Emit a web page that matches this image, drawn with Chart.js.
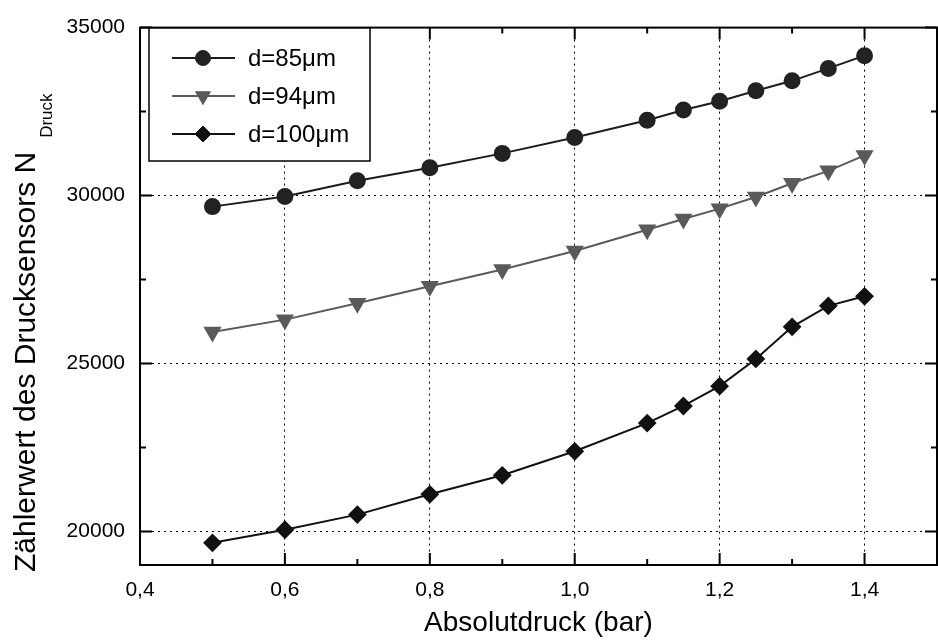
<!DOCTYPE html>
<html>
<head>
<meta charset="utf-8">
<title>Zählerwert des Drucksensors</title>
<script src="https://cdn.jsdelivr.net/npm/chart.js@4.4.1/dist/chart.umd.min.js"></script>
<style>
  html, body { margin: 0; padding: 0; background: #fff; overflow: hidden; }
  #wrap { width: 950px; height: 641px; }
</style>
</head>
<body>
<div id="wrap"><canvas id="druckChart" width="950" height="641"></canvas></div>
<script>
// Absolutdruck in bar
const pressure = [0.5, 0.6, 0.7, 0.8, 0.9, 1.0, 1.1, 1.15, 1.2, 1.25, 1.3, 1.35, 1.4];

// Zählerwerte für die drei Membrandicken
const counts85 = [29670, 29970, 30440, 30830, 31255, 31725, 32240, 32545, 32805, 33120, 33415, 33785, 34165];
const counts94 = [25935, 26305, 26795, 27300, 27800, 28350, 28980, 29300, 29610, 29955, 30365, 30735, 31195];
const counts100 = [19660, 20050, 20500, 21105, 21670, 22385, 23225, 23735, 24325, 25135, 26090, 26715, 27000];

const seriesLabels = ['d=85μm', 'd=94μm', 'd=100μm'];

// Achsenteilung: Haupt- und Nebenstriche
const xTicks = [0.4, 0.5, 0.6, 0.7, 0.8, 0.9, 1.0, 1.1, 1.2, 1.3, 1.4, 1.5];
const yTicks = [20000, 22500, 25000, 27500, 30000, 32500, 35000];

const xTitle = 'Absolutdruck (bar)';
const yTitle = 'Zählerwert des Drucksensors N';
const ySubscript = 'Druck';

const FONT = '"Liberation Sans", Arial, Helvetica, sans-serif';

function toPoints(ys) {
    return pressure.map((x, i) => ({ x: x, y: ys[i] }));
}

function isMajorX(v) {
    return Math.round(v * 10) % 2 === 0;
}

function isMajorY(v) {
    return v % 5000 === 0;
}

// frame, inward ticks, axis titles and the boxed legend
const plotDecor = {
    id: 'plotDecor',
    afterDraw(chart) {
        const ctx = chart.ctx;
        const area = chart.chartArea;
        const xs = chart.scales.x;
        const ys = chart.scales.y;

        ctx.save();
        ctx.strokeStyle = '#000';
        ctx.lineWidth = 2;
        ctx.setLineDash([]);
        ctx.strokeRect(area.left, area.top, area.right - area.left, area.bottom - area.top);

        // tick marks pointing into the plot on all four sides
        ctx.beginPath();
        xs.ticks.forEach(t => {
            const len = isMajorX(t.value) ? 12 : 6;
            const px = xs.getPixelForValue(t.value);
            ctx.moveTo(px, area.bottom);
            ctx.lineTo(px, area.bottom - len);
            ctx.moveTo(px, area.top);
            ctx.lineTo(px, area.top + len);
        });
        ys.ticks.forEach(t => {
            const len = isMajorY(t.value) ? 12 : 6;
            const py = ys.getPixelForValue(t.value);
            ctx.moveTo(area.left, py);
            ctx.lineTo(area.left + len, py);
            ctx.moveTo(area.right, py);
            ctx.lineTo(area.right - len, py);
        });
        ctx.stroke();

        // axis titles
        ctx.fillStyle = '#000';
        ctx.font = '28px ' + FONT;
        ctx.textAlign = 'center';
        ctx.textBaseline = 'alphabetic';
        ctx.fillText(xTitle, (area.left + area.right) / 2, 631);

        ctx.save();
        ctx.translate(35, 572);
        ctx.rotate(-Math.PI / 2);
        ctx.textAlign = 'left';
        ctx.font = '30px ' + FONT;
        ctx.fillText(yTitle, 0, 0);
        const w = ctx.measureText(yTitle).width;
        ctx.font = '17px ' + FONT;
        ctx.fillText(ySubscript, w + 14, 17);
        ctx.restore();

        // legend box
        const box = { left: 149, top: 28, right: 370, bottom: 161 };
        ctx.fillStyle = '#fff';
        ctx.fillRect(box.left, box.top, box.right - box.left, box.bottom - box.top);
        ctx.lineWidth = 1.5;
        ctx.strokeStyle = '#000';
        ctx.strokeRect(box.left, box.top, box.right - box.left, box.bottom - box.top);

        const rows = [58, 96, 134];
        chart.data.datasets.forEach((ds, i) => {
            const y = rows[i];
            ctx.strokeStyle = ds.borderColor;
            ctx.lineWidth = ds.borderWidth;
            ctx.beginPath();
            ctx.moveTo(172, y);
            ctx.lineTo(235, y);
            ctx.stroke();
            ctx.fillStyle = ds.pointBackgroundColor;
            ctx.strokeStyle = ds.pointBorderColor;
            ctx.lineWidth = 1;
            Chart.helpers.drawPoint(ctx, {
                pointStyle: ds.pointStyle,
                radius: ds.pointRadius,
                rotation: ds.pointRotation || 0,
                borderWidth: 1
            }, 203, y);
            ctx.fillStyle = '#000';
            ctx.font = '24px ' + FONT;
            ctx.textAlign = 'left';
            ctx.textBaseline = 'middle';
            ctx.fillText(ds.label, 248, y + 1);
        });
        ctx.restore();
    }
};

const ctx = document.getElementById('druckChart').getContext('2d');
const druckChart = new Chart(ctx, {
    type: 'line',
    data: {
        datasets: [
            {
                label: seriesLabels[0],
                data: toPoints(counts85),
                borderColor: '#1c1c1c',
                borderWidth: 2,
                pointStyle: 'circle',
                pointRadius: 7.5,
                pointBackgroundColor: '#222',
                pointBorderColor: '#222'
            },
            {
                label: seriesLabels[1],
                data: toPoints(counts94),
                borderColor: '#5a5a5a',
                borderWidth: 2,
                pointStyle: 'triangle',
                pointRotation: 180,
                pointRadius: 8.5,
                pointBackgroundColor: '#5a5a5a',
                pointBorderColor: '#5a5a5a'
            },
            {
                label: seriesLabels[2],
                data: toPoints(counts100),
                borderColor: '#111',
                borderWidth: 2,
                pointStyle: 'rectRot',
                pointRadius: 8,
                pointBackgroundColor: '#111',
                pointBorderColor: '#111'
            }
        ]
    },
    options: {
        responsive: false,
        animation: false,
        devicePixelRatio: 1,
        layout: { padding: { top: 20, right: 2, left: 0, bottom: 0 } },
        plugins: {
            legend: { display: false },
            tooltip: { enabled: false }
        },
        elements: {
            line: { tension: 0 },
            point: { borderWidth: 1 }
        },
        scales: {
            x: {
                type: 'linear',
                min: 0.4,
                max: 1.5,
                afterFit: scale => { scale.height = 76; },
                afterBuildTicks: scale => { scale.ticks = xTicks.map(v => ({ value: v })); },
                ticks: {
                    autoSkip: false,
                    maxRotation: 0,
                    padding: 13,
                    color: '#000',
                    font: { family: FONT, size: 21 },
                    callback: v => (isMajorX(v) && v < 1.45 ? v.toFixed(1).replace('.', ',') : '')
                },
                grid: {
                    drawTicks: false,
                    lineWidth: 1,
                    color: c => {
                        const v = c.tick.value;
                        return isMajorX(v) && v > 0.45 && v < 1.45 ? '#000' : 'rgba(0,0,0,0)';
                    }
                },
                border: { display: false, dash: [2, 4] }
            },
            y: {
                type: 'linear',
                min: 19000,
                max: 35000,
                afterFit: scale => { scale.width = 140; },
                afterBuildTicks: scale => { scale.ticks = yTicks.map(v => ({ value: v })); },
                ticks: {
                    autoSkip: false,
                    padding: 15,
                    color: '#000',
                    font: { family: FONT, size: 21 },
                    callback: v => (isMajorY(v) ? String(v) : '')
                },
                grid: {
                    drawTicks: false,
                    lineWidth: 1,
                    color: c => {
                        const v = c.tick.value;
                        return isMajorY(v) && v < 35000 ? '#000' : 'rgba(0,0,0,0)';
                    }
                },
                border: { display: false, dash: [2, 4] }
            }
        }
    },
    plugins: [plotDecor]
});
</script>
</body>
</html>
